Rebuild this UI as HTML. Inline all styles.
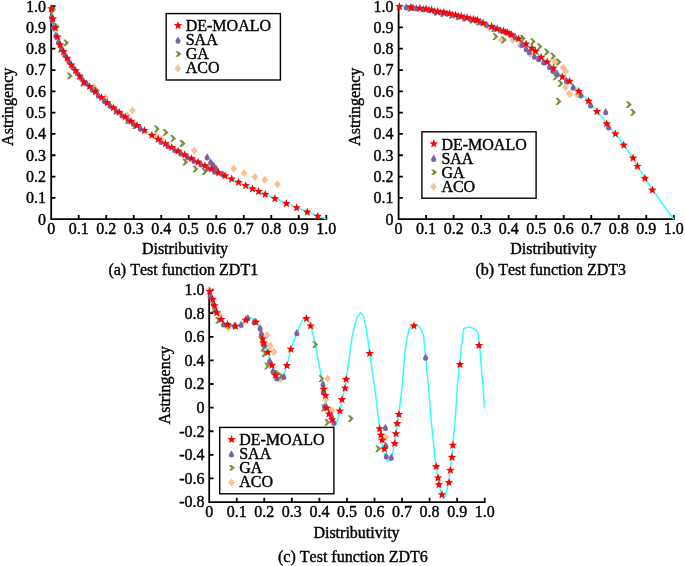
<!DOCTYPE html>
<html lang="en">
<head>
<meta charset="utf-8">
<title>Pareto fronts: DE-MOALO vs SAA, GA, ACO</title>
<style>
html,body{margin:0;padding:0;background:#fff;}
body{width:685px;height:566px;overflow:hidden;}
svg{display:block;}
text{font-family:"Liberation Serif","Times New Roman",Times,serif;font-size:16px;fill:#000;stroke:#000;stroke-width:0.4px;font-kerning:none;font-variant-ligatures:none;}
.ax{fill:none;stroke:#000;stroke-width:1.8px;stroke-linecap:butt;stroke-linejoin:miter;}
.lg{fill:#fff;stroke:#000;stroke-width:1.4px;}
.cy{fill:none;stroke:#2cffff;stroke-width:1.45px;stroke-linejoin:round;}
.s{fill:#ff0000;}
.d{fill:#7e62a1;}
.g{fill:#76933c;}
.o{fill:#f8c296;}
</style>
</head>
<body>
<svg width="685" height="566" viewBox="0 0 685 566">
<rect width="685" height="566" fill="#fff"/>
<path class="ax" d="M51.2,5.2 V219.2 H327.2"/>
<path class="ax" d="M78.71,219.2 v-4.3M106.22,219.2 v-4.3M133.73,219.2 v-4.3M161.24,219.2 v-4.3M188.75,219.2 v-4.3M216.26,219.2 v-4.3M243.77,219.2 v-4.3M271.28,219.2 v-4.3M298.79,219.2 v-4.3M326.3,219.2 v-4.3M51.2,197.89 h4.3M51.2,176.58 h4.3M51.2,155.27 h4.3M51.2,133.96 h4.3M51.2,112.65 h4.3M51.2,91.34 h4.3M51.2,70.03 h4.3M51.2,48.72 h4.3M51.2,27.41 h4.3M51.2,6.1 h4.3"/>
<text x="51.2" y="234.3" text-anchor="middle">0</text>
<text x="78.71" y="234.3" text-anchor="middle">0.1</text>
<text x="106.22" y="234.3" text-anchor="middle">0.2</text>
<text x="133.73" y="234.3" text-anchor="middle">0.3</text>
<text x="161.24" y="234.3" text-anchor="middle">0.4</text>
<text x="188.75" y="234.3" text-anchor="middle">0.5</text>
<text x="216.26" y="234.3" text-anchor="middle">0.6</text>
<text x="243.77" y="234.3" text-anchor="middle">0.7</text>
<text x="271.28" y="234.3" text-anchor="middle">0.8</text>
<text x="298.79" y="234.3" text-anchor="middle">0.9</text>
<text x="326.3" y="234.3" text-anchor="middle">1.0</text>
<text x="46" y="224.6" text-anchor="end">0</text>
<text x="46" y="203.29" text-anchor="end">0.1</text>
<text x="46" y="181.98" text-anchor="end">0.2</text>
<text x="46" y="160.67" text-anchor="end">0.3</text>
<text x="46" y="139.36" text-anchor="end">0.4</text>
<text x="46" y="118.05" text-anchor="end">0.5</text>
<text x="46" y="96.74" text-anchor="end">0.6</text>
<text x="46" y="75.43" text-anchor="end">0.7</text>
<text x="46" y="54.12" text-anchor="end">0.8</text>
<text x="46" y="32.81" text-anchor="end">0.9</text>
<text x="46" y="11.5" text-anchor="end">1.0</text>
<polyline class="cy" points="51.2,6.1 51.21,7.17 51.23,8.23 51.26,9.3 51.31,10.36 51.37,11.43 51.45,12.49 51.54,13.56 51.64,14.62 51.76,15.69 51.89,16.75 52.03,17.82 52.19,18.89 52.36,19.95 52.55,21.02 52.75,22.08 52.96,23.15 53.19,24.21 53.43,25.28 53.68,26.34 53.95,27.41 54.23,28.48 54.53,29.54 54.84,30.61 55.16,31.67 55.5,32.74 55.85,33.8 56.21,34.87 56.59,35.93 56.98,37 57.39,38.06 57.81,39.13 58.24,40.2 58.69,41.26 59.15,42.33 59.62,43.39 60.11,44.46 60.62,45.52 61.13,46.59 61.66,47.65 62.2,48.72 62.76,49.79 63.33,50.85 63.92,51.92 64.51,52.98 65.13,54.05 65.75,55.11 66.39,56.18 67.05,57.24 67.71,58.31 68.39,59.38 69.09,60.44 69.8,61.51 70.52,62.57 71.25,63.64 72,64.7 72.77,65.77 73.54,66.83 74.34,67.9 75.14,68.96 75.96,70.03 76.79,71.1 77.64,72.16 78.5,73.23 79.37,74.29 80.26,75.36 81.16,76.42 82.07,77.49 83,78.55 83.94,79.62 84.9,80.68 85.87,81.75 86.85,82.82 87.85,83.88 88.86,84.95 89.89,86.01 90.92,87.08 91.98,88.14 93.04,89.21 94.12,90.27 95.22,91.34 96.32,92.41 97.44,93.47 98.58,94.54 99.73,95.6 100.89,96.67 102.07,97.73 103.26,98.8 104.46,99.86 105.68,100.93 106.91,101.99 108.15,103.06 109.41,104.13 110.68,105.19 111.97,106.26 113.27,107.32 114.58,108.39 115.91,109.45 117.25,110.52 118.61,111.58 119.98,112.65 121.36,113.72 122.75,114.78 124.16,115.85 125.59,116.91 127.02,117.98 128.48,119.04 129.94,120.11 131.42,121.17 132.91,122.24 134.42,123.31 135.94,124.37 137.47,125.44 139.02,126.5 140.58,127.57 142.15,128.63 143.74,129.7 145.35,130.76 146.96,131.83 148.59,132.89 150.24,133.96 151.89,135.03 153.56,136.09 155.25,137.16 156.95,138.22 158.66,139.29 160.39,140.35 162.13,141.42 163.88,142.48 165.65,143.55 167.43,144.62 169.22,145.68 171.03,146.75 172.86,147.81 174.69,148.88 176.54,149.94 178.41,151.01 180.28,152.07 182.18,153.14 184.08,154.2 186,155.27 187.93,156.34 189.88,157.4 191.84,158.47 193.81,159.53 195.8,160.6 197.8,161.66 199.82,162.73 201.84,163.79 203.89,164.86 205.94,165.92 208.01,166.99 210.1,168.06 212.2,169.12 214.31,170.19 216.43,171.25 218.57,172.32 220.72,173.38 222.89,174.45 225.07,175.51 227.26,176.58 229.47,177.65 231.69,178.71 233.93,179.78 236.18,180.84 238.44,181.91 240.72,182.97 243.01,184.04 245.31,185.1 247.63,186.17 249.96,187.23 252.3,188.3 254.66,189.37 257.04,190.43 259.42,191.5 261.82,192.56 264.24,193.63 266.67,194.69 269.11,195.76 271.56,196.82 274.03,197.89 276.51,198.96 279.01,200.02 281.52,201.09 284.04,202.15 286.58,203.22 289.13,204.28 291.7,205.35 294.28,206.41 296.87,207.48 299.48,208.54 302.1,209.61 304.73,210.68 307.38,211.74 310.04,212.81 312.72,213.87 315.41,214.94 318.11,216 320.83,217.07 323.56,218.13 326.3,219.2"/>
<polygon class="o" points="132.5,106.6 135.9,110.6 132.5,114.6 129.1,110.6"/>
<polygon class="o" points="194.3,146.7 197.7,150.7 194.3,154.7 190.9,150.7"/>
<polygon class="o" points="233.7,164.6 237.1,168.6 233.7,172.6 230.3,168.6"/>
<polygon class="o" points="244.1,169.3 247.5,173.3 244.1,177.3 240.7,173.3"/>
<polygon class="o" points="255,173 258.4,177 255,181 251.6,177"/>
<polygon class="o" points="264.8,175.7 268.2,179.7 264.8,183.7 261.4,179.7"/>
<polygon class="o" points="277.6,180.3 281,184.3 277.6,188.3 274.2,184.3"/>
<polygon class="o" points="93.5,83 96.9,87 93.5,91 90.1,87"/>
<polygon class="o" points="105.5,93.5 108.9,97.5 105.5,101.5 102.1,97.5"/>
<polygon class="o" points="156.3,132 159.7,136 156.3,140 152.9,136"/>
<polygon class="o" points="161.5,135 164.9,139 161.5,143 158.1,139"/>
<polygon class="o" points="127.5,111.5 130.9,115.5 127.5,119.5 124.1,115.5"/>
<polygon class="o" points="212,162 215.4,166 212,170 208.6,166"/>
<polygon class="g" points="63,39.4 65.4,39.4 69,42.8 65.4,46.2 63,46.2 65.6,42.8"/>
<polygon class="g" points="66.8,72.5 69.2,72.5 72.8,75.9 69.2,79.3 66.8,79.3 69.4,75.9"/>
<polygon class="g" points="153.8,125.6 156.2,125.6 159.8,129 156.2,132.4 153.8,132.4 156.4,129"/>
<polygon class="g" points="162.5,129 164.9,129 168.5,132.4 164.9,135.8 162.5,135.8 165.1,132.4"/>
<polygon class="g" points="170.1,135 172.5,135 176.1,138.4 172.5,141.8 170.1,141.8 172.7,138.4"/>
<polygon class="g" points="179.3,140.1 181.7,140.1 185.3,143.5 181.7,146.9 179.3,146.9 181.9,143.5"/>
<polygon class="g" points="179.5,140 181.9,140 185.5,143.4 181.9,146.8 179.5,146.8 182.1,143.4"/>
<polygon class="g" points="182.1,158.8 184.5,158.8 188.1,162.2 184.5,165.6 182.1,165.6 184.7,162.2"/>
<polygon class="g" points="192.4,165.6 194.8,165.6 198.4,169 194.8,172.4 192.4,172.4 195,169"/>
<polygon class="g" points="201.6,168.2 204,168.2 207.6,171.6 204,175 201.6,175 204.2,171.6"/>
<polygon class="g" points="50.2,6.2 52.6,6.2 56.2,9.6 52.6,13 50.2,13 52.8,9.6"/>
<polygon class="g" points="53.5,23.1 55.9,23.1 59.5,26.5 55.9,29.9 53.5,29.9 56.1,26.5"/>
<polygon class="g" points="57.5,45.6 59.9,45.6 63.5,49 59.9,52.4 57.5,52.4 60.1,49"/>
<polygon class="g" points="80,79.6 82.4,79.6 86,83 82.4,86.4 80,86.4 82.6,83"/>
<polygon class="g" points="93,86.6 95.4,86.6 99,90 95.4,93.4 93,93.4 95.6,90"/>
<polygon class="g" points="113,107.6 115.4,107.6 119,111 115.4,114.4 113,114.4 115.6,111"/>
<polygon class="g" points="125,117.1 127.4,117.1 131,120.5 127.4,123.9 125,123.9 127.6,120.5"/>
<polygon class="g" points="132,122.1 134.4,122.1 138,125.5 134.4,128.9 132,128.9 134.6,125.5"/>
<path class="d" d="M207.2,153.2 c0.7,1.5 2.55,3.3 2.55,4.8 a2.55,2.5 0 1 1 -5.1,0 c0,-1.5 1.85,-3.3 2.55,-4.8z"/>
<path class="d" d="M210.7,158.2 c0.7,1.5 2.55,3.3 2.55,4.8 a2.55,2.5 0 1 1 -5.1,0 c0,-1.5 1.85,-3.3 2.55,-4.8z"/>
<path class="d" d="M213.6,161.6 c0.7,1.5 2.55,3.3 2.55,4.8 a2.55,2.5 0 1 1 -5.1,0 c0,-1.5 1.85,-3.3 2.55,-4.8z"/>
<path class="d" d="M216.1,164.6 c0.7,1.5 2.55,3.3 2.55,4.8 a2.55,2.5 0 1 1 -5.1,0 c0,-1.5 1.85,-3.3 2.55,-4.8z"/>
<path class="d" d="M222.8,170.3 c0.7,1.5 2.55,3.3 2.55,4.8 a2.55,2.5 0 1 1 -5.1,0 c0,-1.5 1.85,-3.3 2.55,-4.8z"/>
<path class="d" d="M51.55,12.53 c0.7,1.5 2.55,3.3 2.55,4.8 a2.55,2.5 0 1 1 -5.1,0 c0,-1.5 1.85,-3.3 2.55,-4.8z"/>
<path class="d" d="M52.1,16.48 c0.7,1.5 2.55,3.3 2.55,4.8 a2.55,2.5 0 1 1 -5.1,0 c0,-1.5 1.85,-3.3 2.55,-4.8z"/>
<path class="d" d="M53.48,23.22 c0.7,1.5 2.55,3.3 2.55,4.8 a2.55,2.5 0 1 1 -5.1,0 c0,-1.5 1.85,-3.3 2.55,-4.8z"/>
<path class="d" d="M55.95,31.59 c0.7,1.5 2.55,3.3 2.55,4.8 a2.55,2.5 0 1 1 -5.1,0 c0,-1.5 1.85,-3.3 2.55,-4.8z"/>
<path class="d" d="M58.43,38.02 c0.7,1.5 2.55,3.3 2.55,4.8 a2.55,2.5 0 1 1 -5.1,0 c0,-1.5 1.85,-3.3 2.55,-4.8z"/>
<path class="d" d="M61.45,44.54 c0.7,1.5 2.55,3.3 2.55,4.8 a2.55,2.5 0 1 1 -5.1,0 c0,-1.5 1.85,-3.3 2.55,-4.8z"/>
<path class="d" d="M64.76,50.65 c0.7,1.5 2.55,3.3 2.55,4.8 a2.55,2.5 0 1 1 -5.1,0 c0,-1.5 1.85,-3.3 2.55,-4.8z"/>
<path class="d" d="M68.88,57.33 c0.7,1.5 2.55,3.3 2.55,4.8 a2.55,2.5 0 1 1 -5.1,0 c0,-1.5 1.85,-3.3 2.55,-4.8z"/>
<path class="d" d="M73.01,63.27 c0.7,1.5 2.55,3.3 2.55,4.8 a2.55,2.5 0 1 1 -5.1,0 c0,-1.5 1.85,-3.3 2.55,-4.8z"/>
<path class="d" d="M77.13,68.68 c0.7,1.5 2.55,3.3 2.55,4.8 a2.55,2.5 0 1 1 -5.1,0 c0,-1.5 1.85,-3.3 2.55,-4.8z"/>
<path class="d" d="M81.26,73.68 c0.7,1.5 2.55,3.3 2.55,4.8 a2.55,2.5 0 1 1 -5.1,0 c0,-1.5 1.85,-3.3 2.55,-4.8z"/>
<path class="d" d="M86.21,79.24 c0.7,1.5 2.55,3.3 2.55,4.8 a2.55,2.5 0 1 1 -5.1,0 c0,-1.5 1.85,-3.3 2.55,-4.8z"/>
<path class="d" d="M92.27,85.53 c0.7,1.5 2.55,3.3 2.55,4.8 a2.55,2.5 0 1 1 -5.1,0 c0,-1.5 1.85,-3.3 2.55,-4.8z"/>
<path class="d" d="M98.32,91.38 c0.7,1.5 2.55,3.3 2.55,4.8 a2.55,2.5 0 1 1 -5.1,0 c0,-1.5 1.85,-3.3 2.55,-4.8z"/>
<path class="d" d="M104.64,97.1 c0.7,1.5 2.55,3.3 2.55,4.8 a2.55,2.5 0 1 1 -5.1,0 c0,-1.5 1.85,-3.3 2.55,-4.8z"/>
<path class="d" d="M110.15,101.81 c0.7,1.5 2.55,3.3 2.55,4.8 a2.55,2.5 0 1 1 -5.1,0 c0,-1.5 1.85,-3.3 2.55,-4.8z"/>
<path class="d" d="M116.2,106.74 c0.7,1.5 2.55,3.3 2.55,4.8 a2.55,2.5 0 1 1 -5.1,0 c0,-1.5 1.85,-3.3 2.55,-4.8z"/>
<path class="d" d="M121.98,111.24 c0.7,1.5 2.55,3.3 2.55,4.8 a2.55,2.5 0 1 1 -5.1,0 c0,-1.5 1.85,-3.3 2.55,-4.8z"/>
<path class="d" d="M128.03,115.76 c0.7,1.5 2.55,3.3 2.55,4.8 a2.55,2.5 0 1 1 -5.1,0 c0,-1.5 1.85,-3.3 2.55,-4.8z"/>
<path class="d" d="M133.53,119.72 c0.7,1.5 2.55,3.3 2.55,4.8 a2.55,2.5 0 1 1 -5.1,0 c0,-1.5 1.85,-3.3 2.55,-4.8z"/>
<path class="d" d="M140.41,124.49 c0.7,1.5 2.55,3.3 2.55,4.8 a2.55,2.5 0 1 1 -5.1,0 c0,-1.5 1.85,-3.3 2.55,-4.8z"/>
<path class="d" d="M161.04,137.78 c0.7,1.5 2.55,3.3 2.55,4.8 a2.55,2.5 0 1 1 -5.1,0 c0,-1.5 1.85,-3.3 2.55,-4.8z"/>
<path class="d" d="M167.92,141.92 c0.7,1.5 2.55,3.3 2.55,4.8 a2.55,2.5 0 1 1 -5.1,0 c0,-1.5 1.85,-3.3 2.55,-4.8z"/>
<path class="d" d="M174.8,145.95 c0.7,1.5 2.55,3.3 2.55,4.8 a2.55,2.5 0 1 1 -5.1,0 c0,-1.5 1.85,-3.3 2.55,-4.8z"/>
<path class="d" d="M180.85,149.4 c0.7,1.5 2.55,3.3 2.55,4.8 a2.55,2.5 0 1 1 -5.1,0 c0,-1.5 1.85,-3.3 2.55,-4.8z"/>
<path class="d" d="M187.72,153.23 c0.7,1.5 2.55,3.3 2.55,4.8 a2.55,2.5 0 1 1 -5.1,0 c0,-1.5 1.85,-3.3 2.55,-4.8z"/>
<path class="d" d="M194.05,156.67 c0.7,1.5 2.55,3.3 2.55,4.8 a2.55,2.5 0 1 1 -5.1,0 c0,-1.5 1.85,-3.3 2.55,-4.8z"/>
<path class="d" d="M200.93,160.32 c0.7,1.5 2.55,3.3 2.55,4.8 a2.55,2.5 0 1 1 -5.1,0 c0,-1.5 1.85,-3.3 2.55,-4.8z"/>
<path class="d" d="M207.81,163.89 c0.7,1.5 2.55,3.3 2.55,4.8 a2.55,2.5 0 1 1 -5.1,0 c0,-1.5 1.85,-3.3 2.55,-4.8z"/>
<path class="d" d="M214.68,167.38 c0.7,1.5 2.55,3.3 2.55,4.8 a2.55,2.5 0 1 1 -5.1,0 c0,-1.5 1.85,-3.3 2.55,-4.8z"/>
<polygon class="s" points="51.4,4.25 52.54,7.18 55.68,7.36 53.24,9.35 54.05,12.39 51.4,10.69 48.75,12.39 49.56,9.35 47.12,7.36 50.26,7.18"/>
<polygon class="s" points="52.9,14.35 54.04,17.28 57.18,17.46 54.74,19.45 55.55,22.49 52.9,20.79 50.25,22.49 51.06,19.45 48.62,17.46 51.76,17.28"/>
<polygon class="s" points="55.4,23.55 56.54,26.48 59.68,26.66 57.24,28.65 58.05,31.69 55.4,29.98 52.75,31.69 53.56,28.65 51.12,26.66 54.26,26.48"/>
<polygon class="s" points="57.6,32.45 58.74,35.38 61.88,35.56 59.44,37.55 60.25,40.59 57.6,38.89 54.95,40.59 55.76,37.55 53.32,35.56 56.46,35.38"/>
<polygon class="s" points="60.1,40.35 61.24,43.28 64.38,43.46 61.94,45.45 62.75,48.49 60.1,46.79 57.45,48.49 58.26,45.45 55.82,43.46 58.96,43.28"/>
<polygon class="s" points="63.5,47.05 64.64,49.98 67.78,50.16 65.34,52.15 66.15,55.19 63.5,53.49 60.85,55.19 61.66,52.15 59.22,50.16 62.36,49.98"/>
<polygon class="s" points="67.2,53.75 68.34,56.68 71.48,56.86 69.04,58.85 69.85,61.89 67.2,60.19 64.55,61.89 65.36,58.85 62.92,56.86 66.06,56.68"/>
<polygon class="s" points="71.4,60.45 72.54,63.38 75.68,63.56 73.24,65.55 74.05,68.59 71.4,66.88 68.75,68.59 69.56,65.55 67.12,63.56 70.26,63.38"/>
<polygon class="s" points="75.6,66.05 76.74,68.98 79.88,69.16 77.44,71.15 78.25,74.19 75.6,72.48 72.95,74.19 73.76,71.15 71.32,69.16 74.46,68.98"/>
<polygon class="s" points="79.7,71.75 80.84,74.68 83.98,74.86 81.54,76.85 82.35,79.89 79.7,78.19 77.05,79.89 77.86,76.85 75.42,74.86 78.56,74.68"/>
<polygon class="s" points="83.9,77.65 85.04,80.58 88.18,80.76 85.74,82.75 86.55,85.79 83.9,84.08 81.25,85.79 82.06,82.75 79.62,80.76 82.76,80.58"/>
<polygon class="s" points="89.5,81.95 90.64,84.88 93.78,85.06 91.34,87.05 92.15,90.09 89.5,88.38 86.85,90.09 87.66,87.05 85.22,85.06 88.36,84.88"/>
<polygon class="s" points="95.4,87.35 96.54,90.28 99.68,90.46 97.24,92.45 98.05,95.49 95.4,93.78 92.75,95.49 93.56,92.45 91.12,90.46 94.26,90.28"/>
<polygon class="s" points="101.54,93.11 102.68,96.05 105.82,96.22 103.38,98.21 104.19,101.25 101.54,99.55 98.9,101.25 99.7,98.21 97.26,96.22 100.41,96.05"/>
<polygon class="s" points="107.32,98.2 108.46,101.13 111.6,101.31 109.16,103.3 109.97,106.34 107.32,104.63 104.68,106.34 105.48,103.3 103.04,101.31 106.18,101.13"/>
<polygon class="s" points="113.37,103.26 114.51,106.19 117.65,106.37 115.21,108.35 116.02,111.4 113.37,109.69 110.73,111.4 111.53,108.35 109.09,106.37 112.24,106.19"/>
<polygon class="s" points="119.15,107.86 120.29,110.79 123.43,110.97 120.99,112.96 121.79,116 119.15,114.29 116.5,116 117.31,112.96 114.87,110.97 118.01,110.79"/>
<polygon class="s" points="125.2,112.47 126.34,115.41 129.48,115.58 127.04,117.57 127.85,120.62 125.2,118.91 122.56,120.62 123.36,117.57 120.92,115.58 124.06,115.41"/>
<polygon class="s" points="130.98,116.71 132.12,119.64 135.26,119.82 132.82,121.81 133.62,124.85 130.98,123.14 128.33,124.85 129.14,121.81 126.7,119.82 129.84,119.64"/>
<polygon class="s" points="137.03,120.98 138.17,123.92 141.31,124.09 138.87,126.08 139.68,129.12 137.03,127.42 134.39,129.12 135.19,126.08 132.75,124.09 135.89,123.92"/>
<polygon class="s" points="144.46,126.02 145.6,128.96 148.74,129.13 146.3,131.12 147.1,134.17 144.46,132.46 141.81,134.17 142.62,131.12 140.18,129.13 143.32,128.96"/>
<polygon class="s" points="151.89,130.87 153.02,133.81 156.17,133.98 153.73,135.97 154.53,139.01 151.89,137.31 149.24,139.01 150.05,135.97 147.61,133.98 150.75,133.81"/>
<polygon class="s" points="158.21,134.86 159.35,137.79 162.49,137.97 160.05,139.96 160.86,143 158.21,141.3 155.57,143 156.37,139.96 153.93,137.97 157.08,137.79"/>
<polygon class="s" points="165.37,139.23 166.5,142.16 169.65,142.34 167.21,144.33 168.01,147.37 165.37,145.67 162.72,147.37 163.53,144.33 161.09,142.34 164.23,142.16"/>
<polygon class="s" points="171.69,142.98 172.83,145.92 175.97,146.09 173.53,148.08 174.34,151.12 171.69,149.42 169.05,151.12 169.85,148.08 167.41,146.09 170.56,145.92"/>
<polygon class="s" points="178.02,146.64 179.16,149.57 182.3,149.75 179.86,151.74 180.67,154.78 178.02,153.07 175.38,154.78 176.18,151.74 173.74,149.75 176.88,149.57"/>
<polygon class="s" points="184.62,150.36 185.76,153.29 188.9,153.47 186.46,155.45 187.27,158.5 184.62,156.79 181.98,158.5 182.78,155.45 180.34,153.47 183.49,153.29"/>
<polygon class="s" points="191.5,154.13 192.64,157.07 195.78,157.24 193.34,159.23 194.15,162.27 191.5,160.57 188.86,162.27 189.66,159.23 187.22,157.24 190.36,157.07"/>
<polygon class="s" points="198.1,157.67 199.24,160.61 202.38,160.78 199.94,162.77 200.75,165.81 198.1,164.11 195.46,165.81 196.26,162.77 193.82,160.78 196.97,160.61"/>
<polygon class="s" points="204.84,161.21 205.98,164.14 209.12,164.32 206.68,166.3 207.49,169.35 204.84,167.64 202.2,169.35 203,166.3 200.56,164.32 203.71,164.14"/>
<polygon class="s" points="211.58,164.66 212.72,167.6 215.86,167.77 213.42,169.76 214.23,172.8 211.58,171.1 208.94,172.8 209.74,169.76 207.3,167.77 210.45,167.6"/>
<polygon class="s" points="218.46,168.11 219.6,171.05 222.74,171.22 220.3,173.21 221.11,176.25 218.46,174.55 215.82,176.25 216.62,173.21 214.18,171.22 217.32,171.05"/>
<polygon class="s" points="225.06,171.36 226.2,174.3 229.34,174.47 226.9,176.46 227.71,179.5 225.06,177.8 222.42,179.5 223.22,176.46 220.78,174.47 223.93,174.3"/>
<polygon class="s" points="231.67,174.55 232.8,177.48 235.95,177.66 233.51,179.65 234.31,182.69 231.67,180.98 229.02,182.69 229.83,179.65 227.39,177.66 230.53,177.48"/>
<polygon class="s" points="238.54,177.81 239.68,180.74 242.82,180.92 240.38,182.9 241.19,185.95 238.54,184.24 235.9,185.95 236.7,182.9 234.26,180.92 237.41,180.74"/>
<polygon class="s" points="245.7,181.13 246.83,184.07 249.98,184.24 247.54,186.23 248.34,189.27 245.7,187.57 243.05,189.27 243.86,186.23 241.42,184.24 244.56,184.07"/>
<polygon class="s" points="252.57,184.27 253.71,187.21 256.85,187.38 254.41,189.37 255.22,192.41 252.57,190.71 249.93,192.41 250.73,189.37 248.29,187.38 251.44,187.21"/>
<polygon class="s" points="258.63,186.99 259.76,189.93 262.91,190.1 260.47,192.09 261.27,195.13 258.63,193.43 255.98,195.13 256.79,192.09 254.35,190.1 257.49,189.93"/>
<polygon class="s" points="265.23,189.91 266.37,192.85 269.51,193.02 267.07,195.01 267.87,198.05 265.23,196.35 262.58,198.05 263.39,195.01 260.95,193.02 264.09,192.85"/>
<polygon class="s" points="274.86,194.09 275.99,197.03 279.14,197.2 276.7,199.19 277.5,202.24 274.86,200.53 272.21,202.24 273.02,199.19 270.58,197.2 273.72,197.03"/>
<polygon class="s" points="286.41,199 287.55,201.93 290.69,202.1 288.25,204.09 289.06,207.14 286.41,205.43 283.77,207.14 284.57,204.09 282.13,202.1 285.27,201.93"/>
<polygon class="s" points="296.59,203.21 297.73,206.15 300.87,206.32 298.43,208.31 299.23,211.35 296.59,209.65 293.94,211.35 294.75,208.31 292.31,206.32 295.45,206.15"/>
<polygon class="s" points="307.32,207.57 308.46,210.5 311.6,210.68 309.16,212.66 309.96,215.71 307.32,214 304.67,215.71 305.48,212.66 303.04,210.68 306.18,210.5"/>
<polygon class="s" points="317.77,211.72 318.91,214.66 322.05,214.83 319.61,216.82 320.42,219.86 317.77,218.16 315.13,219.86 315.93,216.82 313.49,214.83 316.63,214.66"/>
<rect class="lg" x="166.2" y="13.6" width="114.2" height="66.4"/>
<polygon class="s" points="178.1,21.15 179.24,24.08 182.38,24.26 179.94,26.25 180.75,29.29 178.1,27.58 175.45,29.29 176.26,26.25 173.82,24.26 176.96,24.08"/>
<path class="d" d="M178,36.4 c0.7,1.5 2.55,3.3 2.55,4.8 a2.55,2.5 0 1 1 -5.1,0 c0,-1.5 1.85,-3.3 2.55,-4.8z"/>
<polygon class="g" points="175.3,51.2 178.1,51.2 181.4,54 178.1,56.8 175.3,56.8 177.8,54"/>
<polygon class="o" points="177.9,64.6 181.3,68.6 177.9,72.6 174.5,68.6"/>
<text x="185.7" y="31.4" text-anchor="start">DE-MOALO</text>
<text x="185.7" y="45.4" text-anchor="start">SAA</text>
<text x="185.7" y="59.4" text-anchor="start">GA</text>
<text x="185.7" y="73.4" text-anchor="start">ACO</text>
<text x="185" y="253.5" text-anchor="middle">Distributivity</text>
<text x="183.3" y="275.4" text-anchor="middle">(a) Test function ZDT1</text>
<text transform="translate(13.1,106.8) rotate(-90)" text-anchor="middle">Astringency</text>
<path class="ax" d="M398.6,5.2 V219.2 H674.7"/>
<path class="ax" d="M426.12,219.2 v-4.3M453.64,219.2 v-4.3M481.16,219.2 v-4.3M508.68,219.2 v-4.3M536.2,219.2 v-4.3M563.72,219.2 v-4.3M591.24,219.2 v-4.3M618.76,219.2 v-4.3M646.28,219.2 v-4.3M673.8,219.2 v-4.3M398.6,197.89 h4.3M398.6,176.58 h4.3M398.6,155.27 h4.3M398.6,133.96 h4.3M398.6,112.65 h4.3M398.6,91.34 h4.3M398.6,70.03 h4.3M398.6,48.72 h4.3M398.6,27.41 h4.3M398.6,6.1 h4.3"/>
<text x="398.6" y="234.3" text-anchor="middle">0</text>
<text x="426.12" y="234.3" text-anchor="middle">0.1</text>
<text x="453.64" y="234.3" text-anchor="middle">0.2</text>
<text x="481.16" y="234.3" text-anchor="middle">0.3</text>
<text x="508.68" y="234.3" text-anchor="middle">0.4</text>
<text x="536.2" y="234.3" text-anchor="middle">0.5</text>
<text x="563.72" y="234.3" text-anchor="middle">0.6</text>
<text x="591.24" y="234.3" text-anchor="middle">0.7</text>
<text x="618.76" y="234.3" text-anchor="middle">0.8</text>
<text x="646.28" y="234.3" text-anchor="middle">0.9</text>
<text x="673.8" y="234.3" text-anchor="middle">1.0</text>
<text x="393.4" y="224.6" text-anchor="end">0</text>
<text x="393.4" y="203.29" text-anchor="end">0.1</text>
<text x="393.4" y="181.98" text-anchor="end">0.2</text>
<text x="393.4" y="160.67" text-anchor="end">0.3</text>
<text x="393.4" y="139.36" text-anchor="end">0.4</text>
<text x="393.4" y="118.05" text-anchor="end">0.5</text>
<text x="393.4" y="96.74" text-anchor="end">0.6</text>
<text x="393.4" y="75.43" text-anchor="end">0.7</text>
<text x="393.4" y="54.12" text-anchor="end">0.8</text>
<text x="393.4" y="32.81" text-anchor="end">0.9</text>
<text x="393.4" y="11.5" text-anchor="end">1.0</text>
<polyline class="cy" points="398.6,6.1 410.98,6.95 419.79,8.02 426.12,8.66 431.62,9.72 437.68,11.21 443.73,12.07 449.51,13.13 455.43,14.84 461.24,15.9 467.12,17.39 473.45,18.89 477.31,19.74 483.09,22.72 491.62,26.13 497.12,28.48 503.45,30.61 507.58,32.31 511.71,34.44 518.59,38.49 526.02,43.61 532.07,47.87 535.37,51.06 541.15,57.03 547.21,61.72 553.54,67.9 562.34,76.42 569.5,80.9 578.72,91.02 588.49,100.72 596.94,111.24 606.65,123.52 615.35,133.53 623.71,144.83 633.07,157.83 637.47,165.92 644.9,178.07 652.33,189.79 673.8,219.2"/>
<polygon class="o" points="501.3,35.9 504.7,39.9 501.3,43.9 497.9,39.9"/>
<polygon class="o" points="512.7,36.2 516.1,40.2 512.7,44.2 509.3,40.2"/>
<polygon class="o" points="520.2,41.3 523.6,45.3 520.2,49.3 516.8,45.3"/>
<polygon class="o" points="530.3,50 533.7,54 530.3,58 526.9,54"/>
<polygon class="o" points="554.6,57.7 558,61.7 554.6,65.7 551.2,61.7"/>
<polygon class="o" points="563.2,63.8 566.6,67.8 563.2,71.8 559.8,67.8"/>
<polygon class="o" points="565.7,67.2 569.1,71.2 565.7,75.2 562.3,71.2"/>
<polygon class="o" points="565.5,83.2 568.9,87.2 565.5,91.2 562.1,87.2"/>
<polygon class="o" points="569.2,89.6 572.6,93.6 569.2,97.6 565.8,93.6"/>
<polygon class="o" points="577.5,91 580.9,95 577.5,99 574.1,95"/>
<polygon class="o" points="570,90.3 573.4,94.3 570,98.3 566.6,94.3"/>
<polygon class="o" points="477,18.5 480.4,22.5 477,26.5 473.6,22.5"/>
<polygon class="o" points="489,24 492.4,28 489,32 485.6,28"/>
<polygon class="g" points="492.4,33.2 494.8,33.2 498.4,36.6 494.8,40 492.4,40 495,36.6"/>
<polygon class="g" points="500.8,36.5 503.2,36.5 506.8,39.9 503.2,43.3 500.8,43.3 503.4,39.9"/>
<polygon class="g" points="519.7,35.1 522.1,35.1 525.7,38.5 522.1,41.9 519.7,41.9 522.3,38.5"/>
<polygon class="g" points="529.8,38.2 532.2,38.2 535.8,41.6 532.2,45 529.8,45 532.4,41.6"/>
<polygon class="g" points="536.5,43.2 538.9,43.2 542.5,46.6 538.9,50 536.5,50 539.1,46.6"/>
<polygon class="g" points="543.6,48.6 546,48.6 549.6,52 546,55.4 543.6,55.4 546.2,52"/>
<polygon class="g" points="550,52.8 552.4,52.8 556,56.2 552.4,59.6 550,59.6 552.6,56.2"/>
<polygon class="g" points="555.5,58.6 557.9,58.6 561.5,62 557.9,65.4 555.5,65.4 558.1,62"/>
<polygon class="g" points="552.5,73.4 554.9,73.4 558.5,76.8 554.9,80.2 552.5,80.2 555.1,76.8"/>
<polygon class="g" points="557.5,80.1 559.9,80.1 563.5,83.5 559.9,86.9 557.5,86.9 560.1,83.5"/>
<polygon class="g" points="555.5,98.1 557.9,98.1 561.5,101.5 557.9,104.9 555.5,104.9 558.1,101.5"/>
<polygon class="g" points="625.8,101.2 628.2,101.2 631.8,104.6 628.2,108 625.8,108 628.4,104.6"/>
<polygon class="g" points="630,108.9 632.4,108.9 636,112.3 632.4,115.7 630,115.7 632.6,112.3"/>
<polygon class="g" points="407.11,5.06 409.51,5.06 413.11,8.46 409.51,11.86 407.11,11.86 409.71,8.46"/>
<polygon class="g" points="433.25,8.94 435.65,8.94 439.25,12.34 435.65,15.74 433.25,15.74 435.85,12.34"/>
<polygon class="g" points="440.13,10.11 442.53,10.11 446.13,13.51 442.53,16.91 440.13,16.91 442.73,13.51"/>
<polygon class="g" points="448.39,11.73 450.79,11.73 454.39,15.13 450.79,18.53 448.39,18.53 450.99,15.13"/>
<polygon class="g" points="455.27,13.47 457.67,13.47 461.27,16.87 457.67,20.27 455.27,20.27 457.87,16.87"/>
<polygon class="g" points="462.15,14.97 464.55,14.97 468.15,18.37 464.55,21.77 462.15,21.77 464.75,18.37"/>
<polygon class="g" points="469.03,16.63 471.43,16.63 475.03,20.03 471.43,23.43 469.03,23.43 471.63,20.03"/>
<polygon class="g" points="475.91,18.51 478.31,18.51 481.91,21.91 478.31,25.31 475.91,25.31 478.51,21.91"/>
<polygon class="g" points="491.04,25.15 493.44,25.15 497.04,28.55 493.44,31.95 491.04,31.95 493.64,28.55"/>
<path class="d" d="M521.9,40.7 c0.7,1.5 2.55,3.3 2.55,4.8 a2.55,2.5 0 1 1 -5.1,0 c0,-1.5 1.85,-3.3 2.55,-4.8z"/>
<path class="d" d="M526.1,44.9 c0.7,1.5 2.55,3.3 2.55,4.8 a2.55,2.5 0 1 1 -5.1,0 c0,-1.5 1.85,-3.3 2.55,-4.8z"/>
<path class="d" d="M529.4,47.9 c0.7,1.5 2.55,3.3 2.55,4.8 a2.55,2.5 0 1 1 -5.1,0 c0,-1.5 1.85,-3.3 2.55,-4.8z"/>
<path class="d" d="M534.5,52.5 c0.7,1.5 2.55,3.3 2.55,4.8 a2.55,2.5 0 1 1 -5.1,0 c0,-1.5 1.85,-3.3 2.55,-4.8z"/>
<path class="d" d="M538.7,55 c0.7,1.5 2.55,3.3 2.55,4.8 a2.55,2.5 0 1 1 -5.1,0 c0,-1.5 1.85,-3.3 2.55,-4.8z"/>
<path class="d" d="M543.7,58.3 c0.7,1.5 2.55,3.3 2.55,4.8 a2.55,2.5 0 1 1 -5.1,0 c0,-1.5 1.85,-3.3 2.55,-4.8z"/>
<path class="d" d="M549.6,63 c0.7,1.5 2.55,3.3 2.55,4.8 a2.55,2.5 0 1 1 -5.1,0 c0,-1.5 1.85,-3.3 2.55,-4.8z"/>
<path class="d" d="M553,66.7 c0.7,1.5 2.55,3.3 2.55,4.8 a2.55,2.5 0 1 1 -5.1,0 c0,-1.5 1.85,-3.3 2.55,-4.8z"/>
<path class="d" d="M557.1,69.8 c0.7,1.5 2.55,3.3 2.55,4.8 a2.55,2.5 0 1 1 -5.1,0 c0,-1.5 1.85,-3.3 2.55,-4.8z"/>
<path class="d" d="M566.4,76.8 c0.7,1.5 2.55,3.3 2.55,4.8 a2.55,2.5 0 1 1 -5.1,0 c0,-1.5 1.85,-3.3 2.55,-4.8z"/>
<path class="d" d="M573.1,83.5 c0.7,1.5 2.55,3.3 2.55,4.8 a2.55,2.5 0 1 1 -5.1,0 c0,-1.5 1.85,-3.3 2.55,-4.8z"/>
<path class="d" d="M581,91.1 c0.7,1.5 2.55,3.3 2.55,4.8 a2.55,2.5 0 1 1 -5.1,0 c0,-1.5 1.85,-3.3 2.55,-4.8z"/>
<path class="d" d="M590.6,101.1 c0.7,1.5 2.55,3.3 2.55,4.8 a2.55,2.5 0 1 1 -5.1,0 c0,-1.5 1.85,-3.3 2.55,-4.8z"/>
<path class="d" d="M605.7,108 c0.7,1.5 2.55,3.3 2.55,4.8 a2.55,2.5 0 1 1 -5.1,0 c0,-1.5 1.85,-3.3 2.55,-4.8z"/>
<path class="d" d="M608.6,123.3 c0.7,1.5 2.55,3.3 2.55,4.8 a2.55,2.5 0 1 1 -5.1,0 c0,-1.5 1.85,-3.3 2.55,-4.8z"/>
<path class="d" d="M406.31,3.23 c0.7,1.5 2.55,3.3 2.55,4.8 a2.55,2.5 0 1 1 -5.1,0 c0,-1.5 1.85,-3.3 2.55,-4.8z"/>
<path class="d" d="M412.91,3.79 c0.7,1.5 2.55,3.3 2.55,4.8 a2.55,2.5 0 1 1 -5.1,0 c0,-1.5 1.85,-3.3 2.55,-4.8z"/>
<path class="d" d="M416.49,4.22 c0.7,1.5 2.55,3.3 2.55,4.8 a2.55,2.5 0 1 1 -5.1,0 c0,-1.5 1.85,-3.3 2.55,-4.8z"/>
<path class="d" d="M423.37,4.98 c0.7,1.5 2.55,3.3 2.55,4.8 a2.55,2.5 0 1 1 -5.1,0 c0,-1.5 1.85,-3.3 2.55,-4.8z"/>
<path class="d" d="M428.87,5.79 c0.7,1.5 2.55,3.3 2.55,4.8 a2.55,2.5 0 1 1 -5.1,0 c0,-1.5 1.85,-3.3 2.55,-4.8z"/>
<path class="d" d="M434.38,7 c0.7,1.5 2.55,3.3 2.55,4.8 a2.55,2.5 0 1 1 -5.1,0 c0,-1.5 1.85,-3.3 2.55,-4.8z"/>
<path class="d" d="M440.43,8.2 c0.7,1.5 2.55,3.3 2.55,4.8 a2.55,2.5 0 1 1 -5.1,0 c0,-1.5 1.85,-3.3 2.55,-4.8z"/>
<path class="d" d="M446.76,9.22 c0.7,1.5 2.55,3.3 2.55,4.8 a2.55,2.5 0 1 1 -5.1,0 c0,-1.5 1.85,-3.3 2.55,-4.8z"/>
<path class="d" d="M452.26,10.53 c0.7,1.5 2.55,3.3 2.55,4.8 a2.55,2.5 0 1 1 -5.1,0 c0,-1.5 1.85,-3.3 2.55,-4.8z"/>
<path class="d" d="M458.32,11.97 c0.7,1.5 2.55,3.3 2.55,4.8 a2.55,2.5 0 1 1 -5.1,0 c0,-1.5 1.85,-3.3 2.55,-4.8z"/>
<path class="d" d="M464.1,13.23 c0.7,1.5 2.55,3.3 2.55,4.8 a2.55,2.5 0 1 1 -5.1,0 c0,-1.5 1.85,-3.3 2.55,-4.8z"/>
<path class="d" d="M470.15,14.71 c0.7,1.5 2.55,3.3 2.55,4.8 a2.55,2.5 0 1 1 -5.1,0 c0,-1.5 1.85,-3.3 2.55,-4.8z"/>
<path class="d" d="M475.38,15.91 c0.7,1.5 2.55,3.3 2.55,4.8 a2.55,2.5 0 1 1 -5.1,0 c0,-1.5 1.85,-3.3 2.55,-4.8z"/>
<path class="d" d="M480.33,17.9 c0.7,1.5 2.55,3.3 2.55,4.8 a2.55,2.5 0 1 1 -5.1,0 c0,-1.5 1.85,-3.3 2.55,-4.8z"/>
<path class="d" d="M486.66,20.75 c0.7,1.5 2.55,3.3 2.55,4.8 a2.55,2.5 0 1 1 -5.1,0 c0,-1.5 1.85,-3.3 2.55,-4.8z"/>
<path class="d" d="M494.37,23.9 c0.7,1.5 2.55,3.3 2.55,4.8 a2.55,2.5 0 1 1 -5.1,0 c0,-1.5 1.85,-3.3 2.55,-4.8z"/>
<path class="d" d="M500.42,26.19 c0.7,1.5 2.55,3.3 2.55,4.8 a2.55,2.5 0 1 1 -5.1,0 c0,-1.5 1.85,-3.3 2.55,-4.8z"/>
<path class="d" d="M505.38,28 c0.7,1.5 2.55,3.3 2.55,4.8 a2.55,2.5 0 1 1 -5.1,0 c0,-1.5 1.85,-3.3 2.55,-4.8z"/>
<path class="d" d="M509.78,30.05 c0.7,1.5 2.55,3.3 2.55,4.8 a2.55,2.5 0 1 1 -5.1,0 c0,-1.5 1.85,-3.3 2.55,-4.8z"/>
<path class="d" d="M515.28,33.15 c0.7,1.5 2.55,3.3 2.55,4.8 a2.55,2.5 0 1 1 -5.1,0 c0,-1.5 1.85,-3.3 2.55,-4.8z"/>
<polygon class="s" points="399.43,2.01 400.56,4.94 403.71,5.12 401.27,7.1 402.07,10.15 399.43,8.44 396.78,10.15 397.59,7.1 395.15,5.12 398.29,4.94"/>
<polygon class="s" points="410.98,2.8 412.12,5.74 415.26,5.91 412.82,7.9 413.63,10.94 410.98,9.24 408.34,10.94 409.14,7.9 406.7,5.91 409.85,5.74"/>
<polygon class="s" points="419.79,3.87 420.93,6.8 424.07,6.98 421.63,8.97 422.44,12.01 419.79,10.3 417.15,12.01 417.95,8.97 415.51,6.98 418.65,6.8"/>
<polygon class="s" points="426.12,4.51 427.26,7.44 430.4,7.62 427.96,9.61 428.77,12.65 426.12,10.94 423.47,12.65 424.28,9.61 421.84,7.62 424.98,7.44"/>
<polygon class="s" points="431.62,5.57 432.76,8.51 435.9,8.68 433.46,10.67 434.27,13.71 431.62,12.01 428.98,13.71 429.78,10.67 427.34,8.68 430.49,8.51"/>
<polygon class="s" points="437.68,7.06 438.82,10 441.96,10.17 439.52,12.16 440.32,15.2 437.68,13.5 435.03,15.2 435.84,12.16 433.4,10.17 436.54,10"/>
<polygon class="s" points="443.73,7.92 444.87,10.85 448.01,11.03 445.57,13.01 446.38,16.06 443.73,14.35 441.09,16.06 441.89,13.01 439.45,11.03 442.6,10.85"/>
<polygon class="s" points="449.51,8.98 450.65,11.92 453.79,12.09 451.35,14.08 452.16,17.12 449.51,15.42 446.87,17.12 447.67,14.08 445.23,12.09 448.37,11.92"/>
<polygon class="s" points="455.43,10.69 456.57,13.62 459.71,13.8 457.27,15.79 458.07,18.83 455.43,17.12 452.78,18.83 453.59,15.79 451.15,13.8 454.29,13.62"/>
<polygon class="s" points="461.24,11.75 462.37,14.69 465.52,14.86 463.08,16.85 463.88,19.89 461.24,18.19 458.59,19.89 459.4,16.85 456.96,14.86 460.1,14.69"/>
<polygon class="s" points="467.12,13.24 468.26,16.18 471.4,16.35 468.97,18.34 469.77,21.38 467.12,19.68 464.48,21.38 465.28,18.34 462.85,16.35 465.99,16.18"/>
<polygon class="s" points="473.45,14.74 474.59,17.67 477.73,17.85 475.29,19.83 476.1,22.88 473.45,21.17 470.81,22.88 471.61,19.83 469.17,17.85 472.32,17.67"/>
<polygon class="s" points="477.31,15.59 478.44,18.52 481.59,18.7 479.15,20.69 479.95,23.73 477.31,22.02 474.66,23.73 475.47,20.69 473.03,18.7 476.17,18.52"/>
<polygon class="s" points="483.09,18.57 484.22,21.51 487.37,21.68 484.93,23.67 485.73,26.71 483.09,25.01 480.44,26.71 481.25,23.67 478.81,21.68 481.95,21.51"/>
<polygon class="s" points="491.62,21.98 492.75,24.92 495.9,25.09 493.46,27.08 494.26,30.12 491.62,28.42 488.97,30.12 489.78,27.08 487.34,25.09 490.48,24.92"/>
<polygon class="s" points="497.12,24.33 498.26,27.26 501.4,27.43 498.96,29.42 499.77,32.47 497.12,30.76 494.48,32.47 495.28,29.42 492.84,27.43 495.98,27.26"/>
<polygon class="s" points="503.45,26.46 504.59,29.39 507.73,29.57 505.29,31.55 506.1,34.6 503.45,32.89 500.81,34.6 501.61,31.55 499.17,29.57 502.31,29.39"/>
<polygon class="s" points="507.58,28.16 508.72,31.1 511.86,31.27 509.42,33.26 510.22,36.3 507.58,34.6 504.93,36.3 505.74,33.26 503.3,31.27 506.44,31.1"/>
<polygon class="s" points="511.71,30.29 512.84,33.23 515.99,33.4 513.55,35.39 514.35,38.43 511.71,36.73 509.06,38.43 509.87,35.39 507.43,33.4 510.57,33.23"/>
<polygon class="s" points="518.59,34.34 519.72,37.28 522.87,37.45 520.43,39.44 521.23,42.48 518.59,40.78 515.94,42.48 516.75,39.44 514.31,37.45 517.45,37.28"/>
<polygon class="s" points="526.02,39.46 527.15,42.39 530.3,42.57 527.86,44.55 528.66,47.6 526.02,45.89 523.37,47.6 524.18,44.55 521.74,42.57 524.88,42.39"/>
<polygon class="s" points="532.07,43.72 533.21,46.65 536.35,46.83 533.91,48.82 534.72,51.86 532.07,50.15 529.43,51.86 530.23,48.82 527.79,46.83 530.93,46.65"/>
<polygon class="s" points="535.37,46.91 536.51,49.85 539.65,50.02 537.21,52.01 538.02,55.05 535.37,53.35 532.73,55.05 533.53,52.01 531.09,50.02 534.24,49.85"/>
<polygon class="s" points="541.15,52.88 542.29,55.82 545.43,55.99 542.99,57.98 543.8,61.02 541.15,59.32 538.51,61.02 539.31,57.98 536.87,55.99 540.02,55.82"/>
<polygon class="s" points="547.21,57.57 548.35,60.5 551.49,60.68 549.05,62.67 549.85,65.71 547.21,64 544.56,65.71 545.37,62.67 542.93,60.68 546.07,60.5"/>
<polygon class="s" points="553.54,63.75 554.67,66.68 557.82,66.86 555.38,68.85 556.18,71.89 553.54,70.18 550.89,71.89 551.7,68.85 549.26,66.86 552.4,66.68"/>
<polygon class="s" points="562.34,72.27 563.48,75.21 566.62,75.38 564.18,77.37 564.99,80.41 562.34,78.71 559.7,80.41 560.5,77.37 558.06,75.38 561.21,75.21"/>
<polygon class="s" points="569.5,76.75 570.64,79.68 573.78,79.86 571.34,81.85 572.14,84.89 569.5,83.18 566.85,84.89 567.66,81.85 565.22,79.86 568.36,79.68"/>
<polygon class="s" points="578.72,86.87 579.86,89.8 583,89.98 580.56,91.97 581.36,95.01 578.72,93.31 576.07,95.01 576.88,91.97 574.44,89.98 577.58,89.8"/>
<polygon class="s" points="588.49,96.57 589.63,99.5 592.77,99.68 590.33,101.66 591.13,104.71 588.49,103 585.84,104.71 586.65,101.66 584.21,99.68 587.35,99.5"/>
<polygon class="s" points="596.94,107.09 598.07,110.03 601.22,110.2 598.78,112.19 599.58,115.23 596.94,113.53 594.29,115.23 595.1,112.19 592.66,110.2 595.8,110.03"/>
<polygon class="s" points="606.65,119.37 607.79,122.3 610.93,122.48 608.49,124.47 609.3,127.51 606.65,125.8 604.01,127.51 604.81,124.47 602.37,122.48 605.51,122.3"/>
<polygon class="s" points="615.35,129.38 616.48,132.32 619.63,132.49 617.19,134.48 617.99,137.52 615.35,135.82 612.7,137.52 613.51,134.48 611.07,132.49 614.21,132.32"/>
<polygon class="s" points="623.71,140.68 624.85,143.61 627.99,143.79 625.55,145.78 626.36,148.82 623.71,147.11 621.07,148.82 621.87,145.78 619.43,143.79 622.58,143.61"/>
<polygon class="s" points="633.07,153.68 634.21,156.61 637.35,156.79 634.91,158.78 635.72,161.82 633.07,160.11 630.43,161.82 631.23,158.78 628.79,156.79 631.93,156.61"/>
<polygon class="s" points="637.47,161.77 638.61,164.71 641.75,164.88 639.31,166.87 640.12,169.92 637.47,168.21 634.83,169.92 635.63,166.87 633.19,164.88 636.34,164.71"/>
<polygon class="s" points="644.9,173.92 646.04,176.86 649.18,177.03 646.74,179.02 647.55,182.06 644.9,180.36 642.26,182.06 643.06,179.02 640.62,177.03 643.77,176.86"/>
<polygon class="s" points="652.33,185.64 653.47,188.58 656.61,188.75 654.17,190.74 654.98,193.78 652.33,192.08 649.69,193.78 650.49,190.74 648.05,188.75 651.2,188.58"/>
<rect class="lg" x="421.9" y="131.8" width="114.2" height="66.4"/>
<polygon class="s" points="433.8,139.35 434.94,142.28 438.08,142.46 435.64,144.45 436.45,147.49 433.8,145.78 431.15,147.49 431.96,144.45 429.52,142.46 432.66,142.28"/>
<path class="d" d="M433.7,154.6 c0.7,1.5 2.55,3.3 2.55,4.8 a2.55,2.5 0 1 1 -5.1,0 c0,-1.5 1.85,-3.3 2.55,-4.8z"/>
<polygon class="g" points="431,169.4 433.8,169.4 437.1,172.2 433.8,175 431,175 433.5,172.2"/>
<polygon class="o" points="433.6,182.8 437,186.8 433.6,190.8 430.2,186.8"/>
<text x="441.4" y="149.6" text-anchor="start">DE-MOALO</text>
<text x="441.4" y="163.6" text-anchor="start">SAA</text>
<text x="441.4" y="177.6" text-anchor="start">GA</text>
<text x="441.4" y="191.6" text-anchor="start">ACO</text>
<text x="553.4" y="253.5" text-anchor="middle">Distributivity</text>
<text x="550.8" y="275.4" text-anchor="middle">(b) Test function ZDT3</text>
<text transform="translate(359.8,106.8) rotate(-90)" text-anchor="middle">Astringency</text>
<path class="ax" d="M209.2,288.7 V502.05 H485.6"/>
<path class="ax" d="M236.75,502.05 v-4.3M264.3,502.05 v-4.3M291.85,502.05 v-4.3M319.4,502.05 v-4.3M346.95,502.05 v-4.3M374.5,502.05 v-4.3M402.05,502.05 v-4.3M429.6,502.05 v-4.3M457.15,502.05 v-4.3M484.7,502.05 v-4.3M209.2,289.6 h4.3M209.2,313.21 h4.3M209.2,336.81 h4.3M209.2,360.42 h4.3M209.2,384.02 h4.3M209.2,407.63 h4.3M209.2,431.23 h4.3M209.2,454.84 h4.3M209.2,478.44 h4.3"/>
<text x="209.2" y="517.15" text-anchor="middle">0</text>
<text x="236.75" y="517.15" text-anchor="middle">0.1</text>
<text x="264.3" y="517.15" text-anchor="middle">0.2</text>
<text x="291.85" y="517.15" text-anchor="middle">0.3</text>
<text x="319.4" y="517.15" text-anchor="middle">0.4</text>
<text x="346.95" y="517.15" text-anchor="middle">0.5</text>
<text x="374.5" y="517.15" text-anchor="middle">0.6</text>
<text x="402.05" y="517.15" text-anchor="middle">0.7</text>
<text x="429.6" y="517.15" text-anchor="middle">0.8</text>
<text x="457.15" y="517.15" text-anchor="middle">0.9</text>
<text x="484.7" y="517.15" text-anchor="middle">1.0</text>
<text x="204.5" y="295" text-anchor="end">1.0</text>
<text x="204.5" y="318.61" text-anchor="end">0.8</text>
<text x="204.5" y="342.21" text-anchor="end">0.6</text>
<text x="204.5" y="365.82" text-anchor="end">0.4</text>
<text x="204.5" y="389.42" text-anchor="end">0.2</text>
<text x="204.5" y="413.03" text-anchor="end">0</text>
<text x="204.5" y="436.63" text-anchor="end">-0.2</text>
<text x="204.5" y="460.24" text-anchor="end">-0.4</text>
<text x="204.5" y="483.84" text-anchor="end">-0.6</text>
<text x="204.5" y="507.45" text-anchor="end">-0.8</text>
<polyline class="cy" points="209.5,290 211.2,295.5 212.6,299.3 214.6,305.7 216.8,312.7 219,316.5 221.3,319.6 224.2,322.6 227.4,324.7 231.5,326 235.6,326.2 239.5,325.3 242.8,323 245.7,320 248.2,318 250.6,317.6 253.4,318.8 255.9,322 258.5,326.5 260.7,333 262.6,338.8 263.7,343 267.7,352.4 270,359.5 272.2,365.5 274.2,371.5 276.5,376 279,379 281.5,380.4 283.6,377.4 286.8,366 290.8,349.3 296.8,332.7 300.2,325 303.5,318.5 306.9,317.6 311.1,326.9 315.3,344.5 321.1,375.5 324,391 326.8,405 329.5,414.5 332.4,421 334.6,424.6 336.4,424 339.6,412 342,400 345,388 346.3,379 349.3,357 352.2,336.1 354.8,325 357.2,316.8 360.6,312.5 363.4,315.9 366.5,330.2 369.8,353.6 372.8,375 375.7,394.8 378.4,418.6 381,436 383.4,450.5 385.6,457.5 387.6,461.4 391,460 393,451 395.2,438.8 399.4,410.2 402.2,384.8 405,351 407.2,338 409,329 410.7,326.4 414,325.8 418.4,326 421,329.4 423.5,335 425.6,357.1 428.3,384.8 431.1,420 433.5,443 436.1,467 438.2,479 440.3,490.5 443.3,498.1 445.3,497.2 448.7,482.3 451,463 452.9,445.2 455.1,420 457.5,384.8 459.8,362.2 461.8,344 463.6,328.6 468.9,326.9 473.1,328.3 476.5,330.3 478.2,334.5 479.8,347.1 481.5,370.6 482.9,384.8 484.4,407.6"/>
<polygon class="o" points="209.3,285.9 212.7,289.9 209.3,293.9 205.9,289.9"/>
<polygon class="o" points="219.3,310.4 222.7,314.4 219.3,318.4 215.9,314.4"/>
<polygon class="o" points="228.5,323.8 231.9,327.8 228.5,331.8 225.1,327.8"/>
<polygon class="o" points="267.1,331.1 270.5,335.1 267.1,339.1 263.7,335.1"/>
<polygon class="o" points="270.2,341.8 273.6,345.8 270.2,349.8 266.8,345.8"/>
<polygon class="o" points="273.9,348.2 277.3,352.2 273.9,356.2 270.5,352.2"/>
<polygon class="o" points="270.1,341.9 273.5,345.9 270.1,349.9 266.7,345.9"/>
<polygon class="o" points="273.8,348.1 277.2,352.1 273.8,356.1 270.4,352.1"/>
<polygon class="o" points="280.2,375.6 283.6,379.6 280.2,383.6 276.8,379.6"/>
<polygon class="o" points="327.6,374.6 331,378.6 327.6,382.6 324.2,378.6"/>
<polygon class="o" points="325.5,395.6 328.9,399.6 325.5,403.6 322.1,399.6"/>
<polygon class="o" points="331.9,406.2 335.3,410.2 331.9,414.2 328.5,410.2"/>
<polygon class="o" points="385.9,433.1 389.3,437.1 385.9,441.1 382.5,437.1"/>
<polygon class="g" points="211.3,305.1 213.7,305.1 217.3,308.5 213.7,311.9 211.3,311.9 213.9,308.5"/>
<polygon class="g" points="215,316.9 217.4,316.9 221,320.3 217.4,323.7 215,323.7 217.6,320.3"/>
<polygon class="g" points="226.4,321.9 228.8,321.9 232.4,325.3 228.8,328.7 226.4,328.7 229,325.3"/>
<polygon class="g" points="258.3,330.3 260.7,330.3 264.3,333.7 260.7,337.1 258.3,337.1 260.9,333.7"/>
<polygon class="g" points="260,344.6 262.4,344.6 266,348 262.4,351.4 260,351.4 262.6,348"/>
<polygon class="g" points="261.3,350.1 263.7,350.1 267.3,353.5 263.7,356.9 261.3,356.9 263.9,353.5"/>
<polygon class="g" points="264,362.6 266.4,362.6 270,366 266.4,369.4 264,369.4 266.6,366"/>
<polygon class="g" points="274.2,370.1 276.6,370.1 280.2,373.5 276.6,376.9 274.2,376.9 276.8,373.5"/>
<polygon class="g" points="312.2,341.2 314.6,341.2 318.2,344.6 314.6,348 312.2,348 314.8,344.6"/>
<polygon class="g" points="318.4,375.2 320.8,375.2 324.4,378.6 320.8,382 318.4,382 321,378.6"/>
<polygon class="g" points="320.8,404.6 323.2,404.6 326.8,408 323.2,411.4 320.8,411.4 323.4,408"/>
<polygon class="g" points="324.2,418.9 326.6,418.9 330.2,422.3 326.6,425.7 324.2,425.7 326.8,422.3"/>
<polygon class="g" points="347.7,415.2 350.1,415.2 353.7,418.6 350.1,422 347.7,422 350.3,418.6"/>
<polygon class="g" points="375.1,445.4 377.5,445.4 381.1,448.8 377.5,452.2 375.1,452.2 377.7,448.8"/>
<polygon class="g" points="277.6,372.4 280,372.4 283.6,375.8 280,379.2 277.6,379.2 280.2,375.8"/>
<path class="d" d="M210.1,292.3 c0.7,1.5 2.55,3.3 2.55,4.8 a2.55,2.5 0 1 1 -5.1,0 c0,-1.5 1.85,-3.3 2.55,-4.8z"/>
<path class="d" d="M213.4,299.8 c0.7,1.5 2.55,3.3 2.55,4.8 a2.55,2.5 0 1 1 -5.1,0 c0,-1.5 1.85,-3.3 2.55,-4.8z"/>
<path class="d" d="M216,306.5 c0.7,1.5 2.55,3.3 2.55,4.8 a2.55,2.5 0 1 1 -5.1,0 c0,-1.5 1.85,-3.3 2.55,-4.8z"/>
<path class="d" d="M223.5,320.3 c0.7,1.5 2.55,3.3 2.55,4.8 a2.55,2.5 0 1 1 -5.1,0 c0,-1.5 1.85,-3.3 2.55,-4.8z"/>
<path class="d" d="M234.7,321.6 c0.7,1.5 2.55,3.3 2.55,4.8 a2.55,2.5 0 1 1 -5.1,0 c0,-1.5 1.85,-3.3 2.55,-4.8z"/>
<path class="d" d="M241.1,320.8 c0.7,1.5 2.55,3.3 2.55,4.8 a2.55,2.5 0 1 1 -5.1,0 c0,-1.5 1.85,-3.3 2.55,-4.8z"/>
<path class="d" d="M247.8,314.1 c0.7,1.5 2.55,3.3 2.55,4.8 a2.55,2.5 0 1 1 -5.1,0 c0,-1.5 1.85,-3.3 2.55,-4.8z"/>
<path class="d" d="M254.1,317.9 c0.7,1.5 2.55,3.3 2.55,4.8 a2.55,2.5 0 1 1 -5.1,0 c0,-1.5 1.85,-3.3 2.55,-4.8z"/>
<path class="d" d="M260.1,324.1 c0.7,1.5 2.55,3.3 2.55,4.8 a2.55,2.5 0 1 1 -5.1,0 c0,-1.5 1.85,-3.3 2.55,-4.8z"/>
<path class="d" d="M261.3,330 c0.7,1.5 2.55,3.3 2.55,4.8 a2.55,2.5 0 1 1 -5.1,0 c0,-1.5 1.85,-3.3 2.55,-4.8z"/>
<path class="d" d="M264.6,340.9 c0.7,1.5 2.55,3.3 2.55,4.8 a2.55,2.5 0 1 1 -5.1,0 c0,-1.5 1.85,-3.3 2.55,-4.8z"/>
<path class="d" d="M269.7,356.9 c0.7,1.5 2.55,3.3 2.55,4.8 a2.55,2.5 0 1 1 -5.1,0 c0,-1.5 1.85,-3.3 2.55,-4.8z"/>
<path class="d" d="M273,367.2 c0.7,1.5 2.55,3.3 2.55,4.8 a2.55,2.5 0 1 1 -5.1,0 c0,-1.5 1.85,-3.3 2.55,-4.8z"/>
<path class="d" d="M276.8,374.1 c0.7,1.5 2.55,3.3 2.55,4.8 a2.55,2.5 0 1 1 -5.1,0 c0,-1.5 1.85,-3.3 2.55,-4.8z"/>
<path class="d" d="M283.8,372.8 c0.7,1.5 2.55,3.3 2.55,4.8 a2.55,2.5 0 1 1 -5.1,0 c0,-1.5 1.85,-3.3 2.55,-4.8z"/>
<path class="d" d="M296.8,329 c0.7,1.5 2.55,3.3 2.55,4.8 a2.55,2.5 0 1 1 -5.1,0 c0,-1.5 1.85,-3.3 2.55,-4.8z"/>
<path class="d" d="M323,380.3 c0.7,1.5 2.55,3.3 2.55,4.8 a2.55,2.5 0 1 1 -5.1,0 c0,-1.5 1.85,-3.3 2.55,-4.8z"/>
<path class="d" d="M323.3,388.3 c0.7,1.5 2.55,3.3 2.55,4.8 a2.55,2.5 0 1 1 -5.1,0 c0,-1.5 1.85,-3.3 2.55,-4.8z"/>
<path class="d" d="M324.7,402.6 c0.7,1.5 2.55,3.3 2.55,4.8 a2.55,2.5 0 1 1 -5.1,0 c0,-1.5 1.85,-3.3 2.55,-4.8z"/>
<path class="d" d="M331.4,411.8 c0.7,1.5 2.55,3.3 2.55,4.8 a2.55,2.5 0 1 1 -5.1,0 c0,-1.5 1.85,-3.3 2.55,-4.8z"/>
<path class="d" d="M333.9,418.6 c0.7,1.5 2.55,3.3 2.55,4.8 a2.55,2.5 0 1 1 -5.1,0 c0,-1.5 1.85,-3.3 2.55,-4.8z"/>
<path class="d" d="M385.4,423.8 c0.7,1.5 2.55,3.3 2.55,4.8 a2.55,2.5 0 1 1 -5.1,0 c0,-1.5 1.85,-3.3 2.55,-4.8z"/>
<path class="d" d="M385.9,441.8 c0.7,1.5 2.55,3.3 2.55,4.8 a2.55,2.5 0 1 1 -5.1,0 c0,-1.5 1.85,-3.3 2.55,-4.8z"/>
<path class="d" d="M386.3,452.2 c0.7,1.5 2.55,3.3 2.55,4.8 a2.55,2.5 0 1 1 -5.1,0 c0,-1.5 1.85,-3.3 2.55,-4.8z"/>
<path class="d" d="M391.3,453.5 c0.7,1.5 2.55,3.3 2.55,4.8 a2.55,2.5 0 1 1 -5.1,0 c0,-1.5 1.85,-3.3 2.55,-4.8z"/>
<path class="d" d="M425.6,353.4 c0.7,1.5 2.55,3.3 2.55,4.8 a2.55,2.5 0 1 1 -5.1,0 c0,-1.5 1.85,-3.3 2.55,-4.8z"/>
<polygon class="s" points="209.7,286.95 210.84,289.88 213.98,290.06 211.54,292.05 212.35,295.09 209.7,293.38 207.05,295.09 207.86,292.05 205.42,290.06 208.56,289.88"/>
<polygon class="s" points="212.6,294.85 213.74,297.78 216.88,297.96 214.44,299.95 215.25,302.99 212.6,301.29 209.95,302.99 210.76,299.95 208.32,297.96 211.46,297.78"/>
<polygon class="s" points="214.6,301.25 215.74,304.18 218.88,304.36 216.44,306.35 217.25,309.39 214.6,307.69 211.95,309.39 212.76,306.35 210.32,304.36 213.46,304.18"/>
<polygon class="s" points="216.8,308.25 217.94,311.18 221.08,311.36 218.64,313.35 219.45,316.39 216.8,314.69 214.15,316.39 214.96,313.35 212.52,311.36 215.66,311.18"/>
<polygon class="s" points="221.3,314.95 222.44,317.88 225.58,318.06 223.14,320.05 223.95,323.09 221.3,321.38 218.65,323.09 219.46,320.05 217.02,318.06 220.16,317.88"/>
<polygon class="s" points="227.4,320.05 228.54,322.98 231.68,323.16 229.24,325.15 230.05,328.19 227.4,326.49 224.75,328.19 225.56,325.15 223.12,323.16 226.26,322.98"/>
<polygon class="s" points="235.6,321.75 236.74,324.68 239.88,324.86 237.44,326.85 238.25,329.89 235.6,328.19 232.95,329.89 233.76,326.85 231.32,324.86 234.46,324.68"/>
<polygon class="s" points="245.7,315.55 246.84,318.48 249.98,318.66 247.54,320.65 248.35,323.69 245.7,321.99 243.05,323.69 243.86,320.65 241.42,318.66 244.56,318.48"/>
<polygon class="s" points="255.9,317.55 257.04,320.48 260.18,320.66 257.74,322.65 258.55,325.69 255.9,323.99 253.25,325.69 254.06,322.65 251.62,320.66 254.76,320.48"/>
<polygon class="s" points="262.6,334.35 263.74,337.28 266.88,337.46 264.44,339.45 265.25,342.49 262.6,340.79 259.95,342.49 260.76,339.45 258.32,337.46 261.46,337.28"/>
<polygon class="s" points="263.5,338.55 264.64,341.48 267.78,341.66 265.34,343.65 266.15,346.69 263.5,344.99 260.85,346.69 261.66,343.65 259.22,341.66 262.36,341.48"/>
<polygon class="s" points="267.8,347.75 268.94,350.68 272.08,350.86 269.64,352.85 270.45,355.89 267.8,354.19 265.15,355.89 265.96,352.85 263.52,350.86 266.66,350.68"/>
<polygon class="s" points="271.9,360.75 273.04,363.68 276.18,363.86 273.74,365.85 274.55,368.89 271.9,367.19 269.25,368.89 270.06,365.85 267.62,363.86 270.76,363.68"/>
<polygon class="s" points="275.5,370.85 276.64,373.78 279.78,373.96 277.34,375.95 278.15,378.99 275.5,377.29 272.85,378.99 273.66,375.95 271.22,373.96 274.36,373.78"/>
<polygon class="s" points="286.9,361.05 288.04,363.98 291.18,364.16 288.74,366.15 289.55,369.19 286.9,367.49 284.25,369.19 285.06,366.15 282.62,364.16 285.76,363.98"/>
<polygon class="s" points="290.8,344.75 291.94,347.68 295.08,347.86 292.64,349.85 293.45,352.89 290.8,351.19 288.15,352.89 288.96,349.85 286.52,347.86 289.66,347.68"/>
<polygon class="s" points="306.4,314.05 307.54,316.98 310.68,317.16 308.24,319.15 309.05,322.19 306.4,320.49 303.75,322.19 304.56,319.15 302.12,317.16 305.26,316.98"/>
<polygon class="s" points="310.6,321.45 311.74,324.38 314.88,324.56 312.44,326.55 313.25,329.59 310.6,327.88 307.95,329.59 308.76,326.55 306.32,324.56 309.46,324.38"/>
<polygon class="s" points="323.7,384.65 324.84,387.58 327.98,387.76 325.54,389.75 326.35,392.79 323.7,391.09 321.05,392.79 321.86,389.75 319.42,387.76 322.56,387.58"/>
<polygon class="s" points="325.5,390.95 326.64,393.88 329.78,394.06 327.34,396.05 328.15,399.09 325.5,397.38 322.85,399.09 323.66,396.05 321.22,394.06 324.36,393.88"/>
<polygon class="s" points="326.8,403.55 327.94,406.48 331.08,406.66 328.64,408.65 329.45,411.69 326.8,409.99 324.15,411.69 324.96,408.65 322.52,406.66 325.66,406.48"/>
<polygon class="s" points="328.9,409.45 330.04,412.38 333.18,412.56 330.74,414.55 331.55,417.59 328.9,415.88 326.25,417.59 327.06,414.55 324.62,412.56 327.76,412.38"/>
<polygon class="s" points="332.2,415.25 333.34,418.18 336.48,418.36 334.04,420.35 334.85,423.39 332.2,421.69 329.55,423.39 330.36,420.35 327.92,418.36 331.06,418.18"/>
<polygon class="s" points="339.8,406.55 340.94,409.48 344.08,409.66 341.64,411.65 342.45,414.69 339.8,412.99 337.15,414.69 337.96,411.65 335.52,409.66 338.66,409.48"/>
<polygon class="s" points="342,395.15 343.14,398.08 346.28,398.26 343.84,400.25 344.65,403.29 342,401.59 339.35,403.29 340.16,400.25 337.72,398.26 340.86,398.08"/>
<polygon class="s" points="345.1,383.75 346.24,386.68 349.38,386.86 346.94,388.85 347.75,391.89 345.1,390.19 342.45,391.89 343.26,388.85 340.82,386.86 343.96,386.68"/>
<polygon class="s" points="346.1,374.85 347.24,377.78 350.38,377.96 347.94,379.95 348.75,382.99 346.1,381.29 343.45,382.99 344.26,379.95 341.82,377.96 344.96,377.78"/>
<polygon class="s" points="369.7,348.95 370.84,351.88 373.98,352.06 371.54,354.05 372.35,357.09 369.7,355.38 367.05,357.09 367.86,354.05 365.42,352.06 368.56,351.88"/>
<polygon class="s" points="379.6,424.25 380.74,427.18 383.88,427.36 381.44,429.35 382.25,432.39 379.6,430.69 376.95,432.39 377.76,429.35 375.32,427.36 378.46,427.18"/>
<polygon class="s" points="380.9,430.65 382.04,433.58 385.18,433.76 382.74,435.75 383.55,438.79 380.9,437.09 378.25,438.79 379.06,435.75 376.62,433.76 379.76,433.58"/>
<polygon class="s" points="382.3,435.65 383.44,438.58 386.58,438.76 384.14,440.75 384.95,443.79 382.3,442.09 379.65,443.79 380.46,440.75 378.02,438.76 381.16,438.58"/>
<polygon class="s" points="384.3,444.35 385.44,447.28 388.58,447.46 386.14,449.45 386.95,452.49 384.3,450.79 381.65,452.49 382.46,449.45 380.02,447.46 383.16,447.28"/>
<polygon class="s" points="394.7,439.05 395.84,441.98 398.98,442.16 396.54,444.15 397.35,447.19 394.7,445.49 392.05,447.19 392.86,444.15 390.42,442.16 393.56,441.98"/>
<polygon class="s" points="396,429.25 397.14,432.18 400.28,432.36 397.84,434.35 398.65,437.39 396,435.69 393.35,437.39 394.16,434.35 391.72,432.36 394.86,432.18"/>
<polygon class="s" points="397.2,419.15 398.34,422.08 401.48,422.26 399.04,424.25 399.85,427.29 397.2,425.59 394.55,427.29 395.36,424.25 392.92,422.26 396.06,422.08"/>
<polygon class="s" points="398.9,409.95 400.04,412.88 403.18,413.06 400.74,415.05 401.55,418.09 398.9,416.38 396.25,418.09 397.06,415.05 394.62,413.06 397.76,412.88"/>
<polygon class="s" points="413.9,321.35 415.04,324.28 418.18,324.46 415.74,326.45 416.55,329.49 413.9,327.79 411.25,329.49 412.06,326.45 409.62,324.46 412.76,324.28"/>
<polygon class="s" points="436.2,462.15 437.34,465.08 440.48,465.26 438.04,467.25 438.85,470.29 436.2,468.59 433.55,470.29 434.36,467.25 431.92,465.26 435.06,465.08"/>
<polygon class="s" points="438.1,473.45 439.24,476.38 442.38,476.56 439.94,478.55 440.75,481.59 438.1,479.88 435.45,481.59 436.26,478.55 433.82,476.56 436.96,476.38"/>
<polygon class="s" points="438.9,480.15 440.04,483.08 443.18,483.26 440.74,485.25 441.55,488.29 438.9,486.59 436.25,488.29 437.06,485.25 434.62,483.26 437.76,483.08"/>
<polygon class="s" points="442,490.25 443.14,493.18 446.28,493.36 443.84,495.35 444.65,498.39 442,496.69 439.35,498.39 440.16,495.35 437.72,493.36 440.86,493.18"/>
<polygon class="s" points="449,478.15 450.14,481.08 453.28,481.26 450.84,483.25 451.65,486.29 449,484.59 446.35,486.29 447.16,483.25 444.72,481.26 447.86,481.08"/>
<polygon class="s" points="450.4,465.85 451.54,468.78 454.68,468.96 452.24,470.95 453.05,473.99 450.4,472.29 447.75,473.99 448.56,470.95 446.12,468.96 449.26,468.78"/>
<polygon class="s" points="452,452.85 453.14,455.78 456.28,455.96 453.84,457.95 454.65,460.99 452,459.29 449.35,460.99 450.16,457.95 447.72,455.96 450.86,455.78"/>
<polygon class="s" points="452.8,440.75 453.94,443.68 457.08,443.86 454.64,445.85 455.45,448.89 452.8,447.19 450.15,448.89 450.96,445.85 448.52,443.86 451.66,443.68"/>
<polygon class="s" points="460,359.95 461.14,362.88 464.28,363.06 461.84,365.05 462.65,368.09 460,366.38 457.35,368.09 458.16,365.05 455.72,363.06 458.86,362.88"/>
<polygon class="s" points="479,340.95 480.14,343.88 483.28,344.06 480.84,346.05 481.65,349.09 479,347.38 476.35,349.09 477.16,346.05 474.72,344.06 477.86,343.88"/>
<rect class="lg" x="219.7" y="427.4" width="114.2" height="66.4"/>
<polygon class="s" points="231.6,434.95 232.74,437.88 235.88,438.06 233.44,440.05 234.25,443.09 231.6,441.38 228.95,443.09 229.76,440.05 227.32,438.06 230.46,437.88"/>
<path class="d" d="M231.5,450.2 c0.7,1.5 2.55,3.3 2.55,4.8 a2.55,2.5 0 1 1 -5.1,0 c0,-1.5 1.85,-3.3 2.55,-4.8z"/>
<polygon class="g" points="228.8,465 231.6,465 234.9,467.8 231.6,470.6 228.8,470.6 231.3,467.8"/>
<polygon class="o" points="231.4,478.4 234.8,482.4 231.4,486.4 228,482.4"/>
<text x="239.2" y="445.2" text-anchor="start">DE-MOALO</text>
<text x="239.2" y="459.2" text-anchor="start">SAA</text>
<text x="239.2" y="473.2" text-anchor="start">GA</text>
<text x="239.2" y="487.2" text-anchor="start">ACO</text>
<text x="356.5" y="537.5" text-anchor="middle">Distributivity</text>
<text x="352.9" y="561.8" text-anchor="middle">(c) Test function ZDT6</text>
<text transform="translate(170.1,385.3) rotate(-90)" text-anchor="middle">Astringency</text>
</svg>
</body>
</html>
